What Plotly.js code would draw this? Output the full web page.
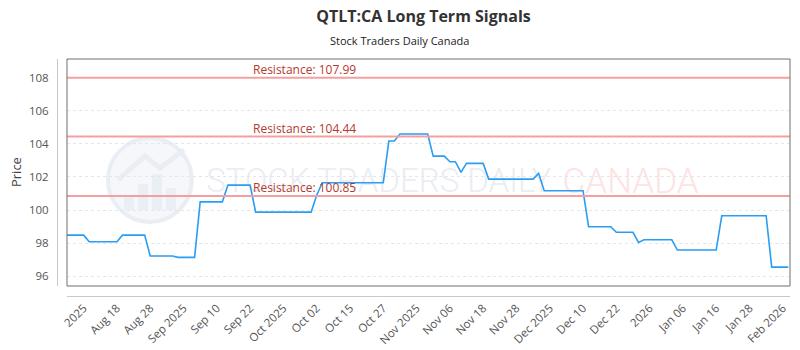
<!DOCTYPE html>
<html><head><meta charset="utf-8">
<script src="https://cdn.plot.ly/plotly-3.0.1.min.js"></script>
<style>html,body{margin:0;padding:0;background:#fff;}#chart{width:800px;height:350px;}</style>
</head><body><div id="chart"></div>
<script>
const tickLabels = ["2025","Aug 18","Aug 28","Sep 2025","Sep 10","Sep 22","Oct 2025","Oct 02","Oct 15","Oct 27","Nov 2025","Nov 06","Nov 18","Nov 28","Dec 2025","Dec 10","Dec 22","2026","Jan 06","Jan 16","Jan 28","Feb 2026"];
const prices = [
 98.49,98.49,98.49,98.49,
 98.09,98.09,98.09,98.09,98.09,98.09,
 98.49,98.49,98.49,98.49,98.49,
 97.23,97.23,97.23,97.23,97.23,
 97.15,97.15,97.15,97.15,
 100.50,100.50,100.50,100.50,100.50,
 101.51,101.51,101.51,101.51,101.51,
 99.88,99.88,99.88,99.88,99.88,99.88,99.88,99.88,99.88,99.88,99.88,
 100.90,
 101.65,101.65,101.65,101.65,101.65,101.65,101.65,101.65,101.65,101.65,101.65,101.65,
 104.17,104.17,
 104.59,104.59,104.59,104.59,104.59,104.59,
 103.26,103.26,103.26,
 102.92,102.92,
 102.28,
 102.82,102.82,102.82,102.82,
 101.87,101.87,101.87,101.87,101.87,101.87,101.87,101.87,101.87,
 102.22,
 101.17,101.17,101.17,101.17,101.17,101.17,101.17,101.17,
 99.00,99.00,99.00,99.00,99.00,
 98.66,98.66,98.66,98.66,
 98.05,
 98.21,98.21,98.21,98.21,98.21,98.21,
 97.59,97.59,97.59,97.59,97.59,97.59,97.59,97.59,
 99.66,99.66,99.66,99.66,99.66,99.66,99.66,99.66,99.66,
 96.56,96.56,96.56,96.56
];
const resistanceLevels = [107.99, 104.44, 100.85];
const titleText = "QTLT:CA Long Term Signals";
const subtitleText = "Stock Traders Daily Canada";
const yTitle = "Price";

const xIdx = prices.map((_, i) => i);
const tickVals = tickLabels.map((_, i) => 3 + 6 * i);

// pixel helpers (plot area incl. offset axes: 57..790.5 x 59..296)
const PL = 57, PR = 790.5, PT = 59, PB = 296;
const fx = px => (px - PL) / (PR - PL);
const fy = py => (PB - py) / (PB - PT);

const FONT = '"Open Sans", "DejaVu Sans", sans-serif';
const WM_FONT = 'Roboto, "Liberation Sans", sans-serif';

const shapes = [];
// watermark logo
shapes.push({type:'circle', xref:'paper', yref:'paper', x0:fx(108), x1:fx(192), y0:fy(222), y1:fy(138),
  fillcolor:'#f5f7fb', line:{color:'#e9edf4', width:4}, layer:'below'});
const bars = [[124,134,196],[138,148,184],[152,162,174],[166,176,188]];
bars.forEach(b => shapes.push({type:'rect', xref:'paper', yref:'paper', x0:fx(b[0]), x1:fx(b[1]), y0:fy(210), y1:fy(b[2]),
  fillcolor:'#eaeef5', line:{width:0}, layer:'below'}));
shapes.push({type:'path', xref:'paper', yref:'paper', layer:'below', line:{color:'#e9edf4', width:5},
  path:`M ${fx(118)},${fy(180)} L ${fx(145)},${fy(156)} L ${fx(160)},${fy(168)} L ${fx(184)},${fy(150)}`});
// watermark text
shapes.push({type:'rect', xref:'paper', yref:'paper', x0:fx(200), x1:fx(558), y0:fy(196), y1:fy(160),
  fillcolor:'rgba(0,0,0,0)', line:{width:0}, layer:'below',
  label:{text:'STOCK TRADERS DAILY', textposition:'middle center', font:{family:WM_FONT, size:33, weight:300, color:'#eaedf3'}}});
shapes.push({type:'rect', xref:'paper', yref:'paper', x0:fx(562), x1:fx(700), y0:fy(196), y1:fy(160),
  fillcolor:'rgba(0,0,0,0)', line:{width:0}, layer:'below',
  label:{text:'CANADA', textposition:'middle center', font:{family:WM_FONT, size:35, weight:300, color:'#fde3e3'}}});
// resistance lines
resistanceLevels.forEach(v => shapes.push({type:'line', xref:'x domain', yref:'y', x0:0, x1:1, y0:v, y1:v,
  line:{color:'#f4a0a0', width:2}, layer:'above'}));
// frame
shapes.push({type:'rect', xref:'x domain', yref:'y domain', x0:0, x1:1, y0:0, y1:1,
  line:{color:'#6e6e6e', width:1}, fillcolor:'rgba(0,0,0,0)', layer:'above'});

const annotations = resistanceLevels.map(v => ({
  xref:'paper', yref:'y', x:fx(252), y:v, xanchor:'left', yanchor:'bottom', showarrow:false,
  text:'Resistance: ' + v.toFixed(2), font:{family:FONT, size:12, color:'#b33a2f'}, borderpad:0, yshift:-1
}));
annotations.push({xref:'paper', yref:'paper', x:fx(400), y:fy(40), xanchor:'center', yanchor:'middle', showarrow:false,
  text:subtitleText, font:{family:FONT, size:11, color:'#222'}});
annotations.push({xref:'paper', yref:'paper', x:fx(16), y:fy(172), xanchor:'center', yanchor:'middle', showarrow:false,
  textangle:-90, text:yTitle, font:{family:FONT, size:13, color:'#444'}});

const trace = {x:xIdx, y:prices, type:'scatter', mode:'lines',
  line:{color:'#2a9df4', width:1.6}, hoverinfo:'skip'};

const layout = {
  width:800, height:350,
  margin:{l:PL, r:800-PR, t:PT, b:350-PB, pad:0},
  paper_bgcolor:'#fff', plot_bgcolor:'#fff',
  showlegend:false,
  title:{text:'<b>'+titleText+'</b>', font:{family:FONT, size:16, color:'#333'}, x:0.5, xanchor:'center', xref:'paper',
    y:1-16/350, yref:'container', yanchor:'middle'},
  xaxis:{domain:[fx(67), 1], anchor:'free', position:0, range:[0, 130.3],
    showline:true, linecolor:'#c8c8c8', linewidth:1, showgrid:false, zeroline:false,
    tickmode:'array', tickvals:tickVals, ticktext:tickLabels, tickangle:-45, ticks:'',
    tickfont:{family:FONT, size:11.5, color:'#555'}},
  yaxis:{domain:[fy(286), 1], anchor:'free', position:0, range:[95.42, 109.12],
    showline:true, linecolor:'#c8c8c8', linewidth:1, zeroline:false,
    tick0:96, dtick:2, ticks:'', ticklabelstandoff:6,
    showgrid:true, gridcolor:'#e6e6e6', gridwidth:1, griddash:'3px,3px',
    tickfont:{family:FONT, size:11.5, color:'#555'}},
  shapes:shapes, annotations:annotations
};
Plotly.newPlot('chart', [trace], layout, {displayModeBar:false, staticPlot:true});
</script></body></html>
